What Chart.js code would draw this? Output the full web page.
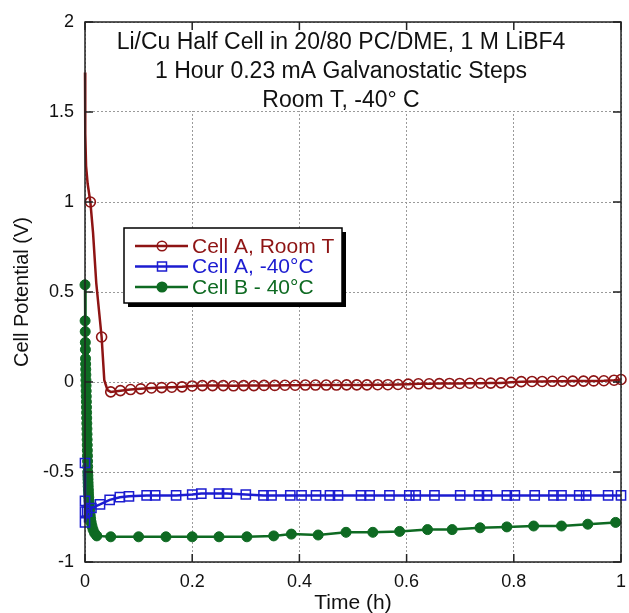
<!DOCTYPE html>
<html>
<head>
<meta charset="utf-8">
<script src="https://cdn.jsdelivr.net/npm/chart.js@4"></script>
<style>
  html, body { margin: 0; padding: 0; background: #fff; }
</style>
</head>
<body>
<canvas id="chart" width="629" height="613"></canvas>
<script>
// Li/Cu half cell, galvanostatic steps

const titleLines = [
  'Li/Cu Half Cell in 20/80 PC/DME, 1 M LiBF4',
  '1 Hour 0.23 mA Galvanostatic Steps',
  'Room T, -40\u00b0 C'
];
const seriesNames = ['Cell A, Room T', 'Cell A, -40\u00b0C', 'Cell B - 40\u00b0C'];
const xTicks = [0, 0.2, 0.4, 0.6, 0.8, 1];
const yTicks = [-1, -0.5, 0, 0.5, 1, 1.5, 2];

// Cell A room T: line vertices without markers
const redPathT = [0, 0.0005, 0.002, 0.005, 0.015, 0.021, 0.036, 0.042];
const redPathV = [1.72, 1.38, 1.2, 1.1, 0.83, 0.55, 0.01, -0.045];
// Cell A room T: marked points
const redMarkT = [0.01, 0.031, 0.048, 0.066, 0.085, 0.104, 0.124, 0.143, 0.162, 0.181, 0.2,
  0.219, 0.238, 0.258, 0.277, 0.296, 0.315, 0.334, 0.354, 0.373, 0.392, 0.411, 0.43,
  0.45, 0.469, 0.488, 0.507, 0.526, 0.546, 0.565, 0.584, 0.603, 0.622, 0.642, 0.661,
  0.68, 0.699, 0.718, 0.738, 0.757, 0.776, 0.795, 0.814, 0.834, 0.853, 0.872, 0.891,
  0.91, 0.93, 0.949, 0.968, 0.987, 1.0];
const redMarkV = [1.0, 0.25, -0.055, -0.048, -0.042, -0.038, -0.033, -0.031, -0.029, -0.027, -0.022,
  -0.02, -0.02, -0.02, -0.021, -0.02, -0.02, -0.019, -0.019, -0.018, -0.018, -0.017, -0.017,
  -0.017, -0.017, -0.016, -0.016, -0.016, -0.015, -0.015, -0.014, -0.012, -0.01, -0.01, -0.009,
  -0.008, -0.008, -0.007, -0.007, -0.006, -0.005, -0.002, 0.002, 0.003, 0.003, 0.004, 0.004,
  0.005, 0.005, 0.006, 0.007, 0.01, 0.014];

// Cell A -40C
const blueT = [0, 0, 0, 0, 0.004, 0.012, 0.028, 0.046, 0.065, 0.082, 0.115, 0.131, 0.17, 0.2,
  0.217, 0.25, 0.265, 0.3, 0.333, 0.348, 0.383, 0.404, 0.431, 0.457, 0.472, 0.515, 0.531,
  0.568, 0.605, 0.617, 0.652, 0.7, 0.735, 0.75, 0.787, 0.802, 0.839, 0.874, 0.889, 0.922,
  0.935, 0.976, 1.0];
const blueV = [-0.45, -0.66, -0.72, -0.78, -0.72, -0.70, -0.68, -0.655, -0.64, -0.635, -0.63, -0.63,
  -0.63, -0.625, -0.62, -0.62, -0.62, -0.625, -0.63, -0.63, -0.63, -0.63, -0.63, -0.63, -0.63,
  -0.63, -0.63, -0.63, -0.63, -0.63, -0.63, -0.63, -0.63, -0.63, -0.63, -0.63, -0.63, -0.63,
  -0.63, -0.63, -0.63, -0.63, -0.63];

// Cell B -40C
const greenT = [0, 0.0002, 0.0004, 0.0006, 0.0008, 0.001, 0.0012, 0.0014, 0.0016, 0.0018,
  0.002, 0.0022, 0.0024, 0.0026, 0.0028, 0.003, 0.0032, 0.0034, 0.0036, 0.0038, 0.004,
  0.0042, 0.0044, 0.0046, 0.0048, 0.005, 0.0052, 0.0054, 0.0056, 0.0058, 0.006, 0.0063,
  0.0066, 0.007, 0.0075, 0.008, 0.0085, 0.009, 0.0097, 0.0105, 0.0115, 0.013, 0.015, 0.018,
  0.022, 0.048, 0.1, 0.151, 0.2, 0.25, 0.302, 0.352, 0.385, 0.435, 0.487, 0.537, 0.587,
  0.639, 0.685, 0.737, 0.787, 0.837, 0.889, 0.938, 0.99];
const greenV = [0.54, 0.34, 0.28, 0.22, 0.18, 0.13, 0.1, 0.07, 0.04, 0.01, -0.02,
  -0.05, -0.08, -0.11, -0.14, -0.17, -0.2, -0.23, -0.26, -0.29, -0.32,
  -0.35, -0.38, -0.41, -0.44, -0.47, -0.5, -0.52, -0.54, -0.56, -0.58, -0.6,
  -0.62, -0.64, -0.66, -0.68, -0.7, -0.72, -0.74, -0.76, -0.78, -0.8, -0.82, -0.84,
  -0.855, -0.86, -0.86, -0.86, -0.86, -0.86, -0.86, -0.855, -0.845, -0.85, -0.835, -0.835, -0.83,
  -0.82, -0.82, -0.81, -0.805, -0.80, -0.80, -0.79, -0.78];

const RED = '#8e1414';
const BLUE = '#1c1cd0';
const GREEN = '#0e6a22';
const FONT = "'Liberation Sans', Arial, sans-serif";

function pts(t, v) {
  return t.map((x, i) => ({ x, y: v[i] }));
}

const redLine = pts(redPathT, redPathV).concat(pts(redMarkT, redMarkV)).sort((a, b) => a.x - b.x);

const legendItems = [
  { label: seriesNames[0], color: RED, style: 'circle', fill: false },
  { label: seriesNames[1], color: BLUE, style: 'rect', fill: false },
  { label: seriesNames[2], color: GREEN, style: 'circle', fill: true }
];

function drawMarker(ctx, style, fill, color, x, y) {
  ctx.save();
  ctx.strokeStyle = color;
  ctx.fillStyle = fill ? color : '#fff';
  ctx.lineWidth = 1.5;
  ctx.beginPath();
  if (style === 'rect') ctx.rect(x - 4.5, y - 4.5, 9, 9);
  else ctx.arc(x, y, 4.8, 0, Math.PI * 2);
  if (fill) ctx.fill();
  ctx.stroke();
  ctx.restore();
}

const decor = {
  id: 'decor',
  beforeDatasetsDraw(chart) {
    const { ctx, chartArea: a, scales: { y } } = chart;
    const cx = (a.left + a.right) / 2 - 12;
    ctx.save();
    ctx.fillStyle = '#fff';
    ctx.fillRect(a.left + 1, a.top + 1, a.width - 2, y.getPixelForValue(1.5) - a.top - 2);
    ctx.fillStyle = '#111';
    ctx.font = '23px ' + FONT;
    ctx.textAlign = 'center';
    ctx.textBaseline = 'middle';
    titleLines.forEach((line, i) => ctx.fillText(line, cx, a.top + 21 + i * 29));
    ctx.restore();
  },
  afterDraw(chart) {
    const { ctx, chartArea: a, scales: { x, y } } = chart;
    ctx.save();
    ctx.strokeStyle = '#222';
    ctx.lineWidth = 1.5;
    ctx.beginPath();
    xTicks.forEach(v => {
      const px = x.getPixelForValue(v);
      ctx.moveTo(px, a.bottom); ctx.lineTo(px, a.bottom - 8);
      ctx.moveTo(px, a.top); ctx.lineTo(px, a.top + 8);
    });
    yTicks.forEach(v => {
      const py = y.getPixelForValue(v);
      ctx.moveTo(a.left, py); ctx.lineTo(a.left + 8, py);
      ctx.moveTo(a.right, py); ctx.lineTo(a.right - 8, py);
    });
    ctx.stroke();
    ctx.strokeRect(a.left, a.top, a.width, a.height);

    // legend box with shadow
    const bx = 124, by = 228, bw = 218, bh = 75;
    ctx.fillStyle = '#000';
    ctx.fillRect(bx + 4, by + 4, bw, bh);
    ctx.fillStyle = '#fff';
    ctx.fillRect(bx, by, bw, bh);
    ctx.lineWidth = 1.5;
    ctx.strokeStyle = '#000';
    ctx.strokeRect(bx, by, bw, bh);
    ctx.font = '21px ' + FONT;
    ctx.textBaseline = 'middle';
    legendItems.forEach((it, i) => {
      const ly = by + 18 + i * 20.5;
      ctx.strokeStyle = it.color;
      ctx.lineWidth = 2.5;
      ctx.beginPath();
      ctx.moveTo(bx + 11, ly);
      ctx.lineTo(bx + 64, ly);
      ctx.stroke();
      drawMarker(ctx, it.style, it.fill, it.color, bx + 38, ly);
      ctx.fillStyle = it.color;
      ctx.fillText(it.label, bx + 68, ly + 1);
    });
    ctx.restore();
  }
};

new Chart(document.getElementById('chart'), {
  type: 'scatter',
  data: {
    datasets: [
      {
        label: seriesNames[0] + ' line',
        data: redLine,
        showLine: true,
        clip: false,
        borderColor: RED,
        borderWidth: 2.5,
        pointRadius: 0
      },
      {
        label: seriesNames[0],
        data: pts(redMarkT, redMarkV),
        showLine: false,
        clip: false,
        pointStyle: 'circle',
        pointRadius: 5,
        pointBorderWidth: 1.6,
        pointBorderColor: RED,
        pointBackgroundColor: 'rgba(255,255,255,0)'
      },
      {
        label: seriesNames[1],
        data: pts(blueT, blueV),
        showLine: true,
        clip: false,
        borderColor: BLUE,
        borderWidth: 2.5,
        pointStyle: 'rect',
        pointRadius: 6.5,
        pointBorderWidth: 1.5,
        pointBorderColor: BLUE,
        pointBackgroundColor: 'rgba(255,255,255,0)'
      },
      {
        label: seriesNames[2],
        data: pts(greenT, greenV),
        showLine: true,
        clip: false,
        borderColor: GREEN,
        borderWidth: 2.5,
        pointStyle: 'circle',
        pointRadius: 5,
        pointBorderWidth: 1,
        pointBorderColor: GREEN,
        pointBackgroundColor: GREEN
      }
    ]
  },
  options: {
    responsive: false,
    animation: false,
    layout: { padding: { top: 22, right: 4, left: 0, bottom: 0 } },
    plugins: { legend: { display: false }, tooltip: { enabled: false } },
    scales: {
      x: {
        type: 'linear',
        min: 0,
        max: 1,
        afterBuildTicks: s => { s.ticks = xTicks.map(v => ({ value: v })); },
        afterFit: s => { s.height = 51; s.paddingLeft = 0; s.paddingRight = 0; },
        ticks: {
          color: '#111',
          padding: 9,
          maxRotation: 0,
          font: { family: FONT, size: 18 },
          callback: v => String(parseFloat(Number(v).toFixed(1)))
        },
        grid: { color: '#9a9a9a', lineWidth: 1, drawTicks: false },
        border: { display: false, dash: [2, 2] },
        title: {
          display: true,
          text: 'Time (h)',
          color: '#111',
          font: { family: FONT, size: 21 },
          padding: { top: 0, bottom: -3 }
        }
      },
      y: {
        type: 'linear',
        min: -1,
        max: 2,
        afterBuildTicks: s => { s.ticks = yTicks.map(v => ({ value: v })); },
        afterFit: s => { s.width = 85; s.paddingTop = 0; s.paddingBottom = 0; },
        ticks: {
          color: '#111',
          padding: 11,
          font: { family: FONT, size: 18 },
          callback: v => String(parseFloat(Number(v).toFixed(1)))
        },
        grid: { color: '#9a9a9a', lineWidth: 1, drawTicks: false },
        border: { display: false, dash: [2, 2] },
        title: {
          display: true,
          text: 'Cell Potential (V)',
          color: '#111',
          font: { family: FONT, size: 20 },
          padding: { top: 10, bottom: 0 }
        }
      }
    }
  },
  plugins: [decor]
});
</script>
</body>
</html>
